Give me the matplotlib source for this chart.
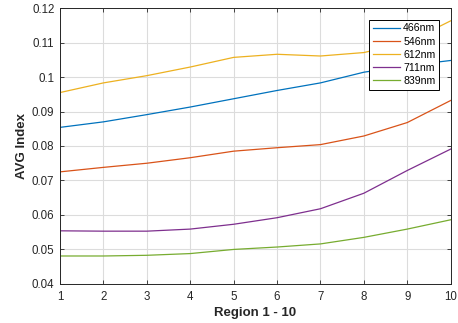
import matplotlib
matplotlib.use("Agg")
import matplotlib.pyplot as plt

plt.rcParams['font.family'] = ['Liberation Sans', 'DejaVu Sans']

regions = [1, 2, 3, 4, 5, 6, 7, 8, 9, 10]
labels = ['466nm', '546nm', '612nm', '711nm', '839nm']
avg_466 = [0.0854, 0.0870, 0.0891, 0.0913, 0.0937, 0.0961, 0.0983, 0.1014, 0.1033, 0.1048]
avg_546 = [0.0725, 0.0738, 0.0750, 0.0766, 0.0785, 0.0795, 0.0804, 0.0829, 0.0868, 0.0932]
avg_612 = [0.0955, 0.0983, 0.1004, 0.1029, 0.1057, 0.1066, 0.1061, 0.1071, 0.1100, 0.1163]
avg_711 = [0.0554, 0.0553, 0.0553, 0.0559, 0.0573, 0.0592, 0.0618, 0.0663, 0.0729, 0.0791]
avg_839 = [0.0481, 0.0481, 0.0483, 0.0488, 0.0500, 0.0507, 0.0516, 0.0535, 0.0559, 0.0586]

# MATLAB default line colours
colors = ['#0072BD', '#D95319', '#EDB120', '#7E2F8E', '#77AC30']

fig = plt.figure(figsize=(4.58, 3.23), dpi=100)
ax = fig.add_axes([0.131, 0.121, 0.853, 0.854])

for y, lab, c in zip([avg_466, avg_546, avg_612, avg_711, avg_839], labels, colors):
    ax.plot(regions, y, color=c, linewidth=0.9, label=lab)

ax.set_xlim(1, 10)
ax.set_ylim(0.04, 0.12)
ax.set_xticks(regions)
ax.set_yticks([0.04, 0.05, 0.06, 0.07, 0.08, 0.09, 0.1, 0.11, 0.12])
ax.set_yticklabels(['0.04', '0.05', '0.06', '0.07', '0.08', '0.09', '0.1', '0.11', '0.12'])
ax.grid(True, color='#dcdcdc', linewidth=0.8)
ax.set_axisbelow(True)
ax.tick_params(direction='in', top=True, right=True, labelsize=8.3,
               colors='#262626', length=3, width=0.6)
ax.tick_params(axis='x', pad=5)
ax.tick_params(axis='y', pad=4)
for s in ax.spines.values():
    s.set_color('#262626')
    s.set_linewidth(0.7)

ax.set_xlabel('Region 1 - 10', fontsize=9.5, fontweight='bold', color='#262626', labelpad=3)
ax.set_ylabel('AVG Index', fontsize=9.5, fontweight='bold', color='#262626', labelpad=3)

leg = ax.legend(loc='upper right', fontsize=7.6, fancybox=False, edgecolor='black',
                framealpha=1, borderaxespad=1.1, handlelength=2.6, labelspacing=0.3,
                handletextpad=0.25, borderpad=0.35)
leg.get_frame().set_linewidth(0.7)

plt.savefig('out.png', dpi=100)
